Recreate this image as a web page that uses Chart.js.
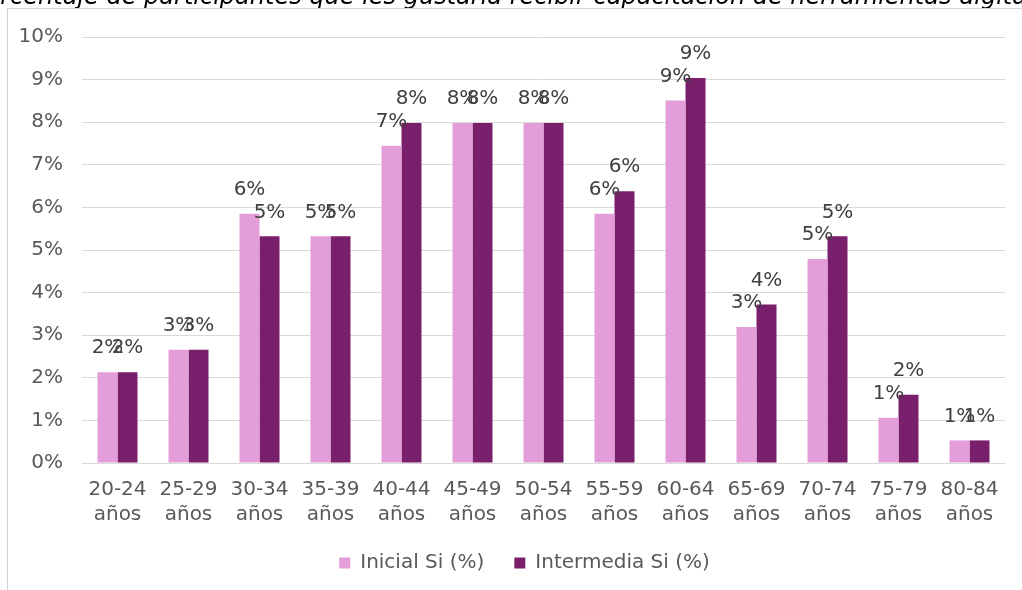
<!DOCTYPE html>
<html><head><meta charset="utf-8">
<script src="https://cdn.jsdelivr.net/npm/chart.js@4/dist/chart.umd.min.js"></script>
<style>
html,body{margin:0;padding:0;background:#fff;overflow:hidden}
#wrap{position:relative;width:1022px;height:590px}
canvas{display:block}
#frame{position:absolute;left:7px;top:8px;right:-10px;bottom:-10px;border-left:1px solid #d4d4d4;border-top:1px solid #d4d4d4;pointer-events:none}
</style>
</head><body>
<div id="wrap"><canvas id="c" width="1022" height="590"></canvas><div id="frame"></div></div>
<script>
const titleText = 'Porcentaje de participantes que les gustaría recibir capacitación de herramientas digitales';
const categories = [['20-24','años'],['25-29','años'],['30-34','años'],['35-39','años'],['40-44','años'],['45-49','años'],['50-54','años'],['55-59','años'],['60-64','años'],['65-69','años'],['70-74','años'],['75-79','años'],['80-84','años']];
const seriesNames = ['Inicial Si (%)', 'Intermedia Si (%)'];
const inicialSi = [2.13, 2.66, 5.85, 5.32, 7.45, 7.98, 7.98, 5.85, 8.51, 3.19, 4.79, 1.06, 0.53];
const intermediaSi = [2.13, 2.66, 5.32, 5.32, 7.98, 7.98, 7.98, 6.38, 9.04, 3.72, 5.32, 1.60, 0.53];
const yMin = 0, yMax = 10, yStep = 1;

Chart.defaults.font.family = "'DejaVu Sans', sans-serif";
Chart.defaults.color = '#595959';

const framePlugin = {
  id: 'frame',
  afterLayout(chart) {
    if (chart.legend) { chart.legend.left += 22; chart.legend.right += 22; }
  },
  beforeDraw(chart) {
    const ctx = chart.ctx;
    ctx.save();
    ctx.fillStyle = '#fff';
    ctx.fillRect(0, 0, chart.width, chart.height);
    ctx.font = "italic 24px 'DejaVu Sans'";
    ctx.fillStyle = '#000';
    ctx.textAlign = 'center';
    ctx.textBaseline = 'alphabetic';
    ctx.fillText(titleText, 516, 4);
    ctx.restore();
  }
};

const labelPlugin = {
  id: 'barLabels',
  afterDatasetsDraw(chart) {
    const ctx = chart.ctx;
    ctx.save();
    ctx.font = "20px 'DejaVu Sans'";
    ctx.fillStyle = '#404040';
    ctx.textAlign = 'center';
    ctx.textBaseline = 'middle';
    chart.data.datasets.forEach((ds, di) => {
      const meta = chart.getDatasetMeta(di);
      meta.data.forEach((bar, i) => {
        ctx.fillText(Math.round(ds.data[i]) + '%', bar.x, bar.y - 24);
      });
    });
    ctx.restore();
  }
};

new Chart(document.getElementById('c'), {
  type: 'bar',
  data: {
    labels: categories,
    datasets: [
      { label: seriesNames[0], data: inicialSi, backgroundColor: '#E39EDA', categoryPercentage: 0.5634, barPercentage: 1 },
      { label: seriesNames[1], data: intermediaSi, backgroundColor: '#7A1F6C', categoryPercentage: 0.5634, barPercentage: 1 }
    ]
  },
  options: {
    responsive: false,
    animation: false,
    devicePixelRatio: 1,
    layout: { padding: { left: 0, right: 17, top: 37, bottom: 12 } },
    plugins: {
      legend: {
        position: 'bottom',
        maxHeight: 55,
        labels: { boxWidth: 11, boxHeight: 11, padding: 30, color: '#595959', font: { size: 20 } }
      },
      tooltip: { enabled: false },
      title: { display: false }
    },
    scales: {
      x: {
        grid: { display: false, drawTicks: false },
        border: { display: false },
        ticks: { color: '#595959', font: { size: 20, lineHeight: 1.25 }, padding: 14, maxRotation: 0, autoSkip: false },
        afterFit(s) { s.height = 60; }
      },
      y: {
        min: yMin, max: yMax,
        grid: { color: '#d9d9d9', lineWidth: 1, drawTicks: false },
        border: { display: false },
        ticks: { stepSize: yStep, color: '#595959', font: { size: 20 }, padding: 19, callback: v => v + '%' },
        afterFit(s) { s.width = 82; }
      }
    }
  },
  plugins: [framePlugin, labelPlugin]
});
</script>
</body></html>
